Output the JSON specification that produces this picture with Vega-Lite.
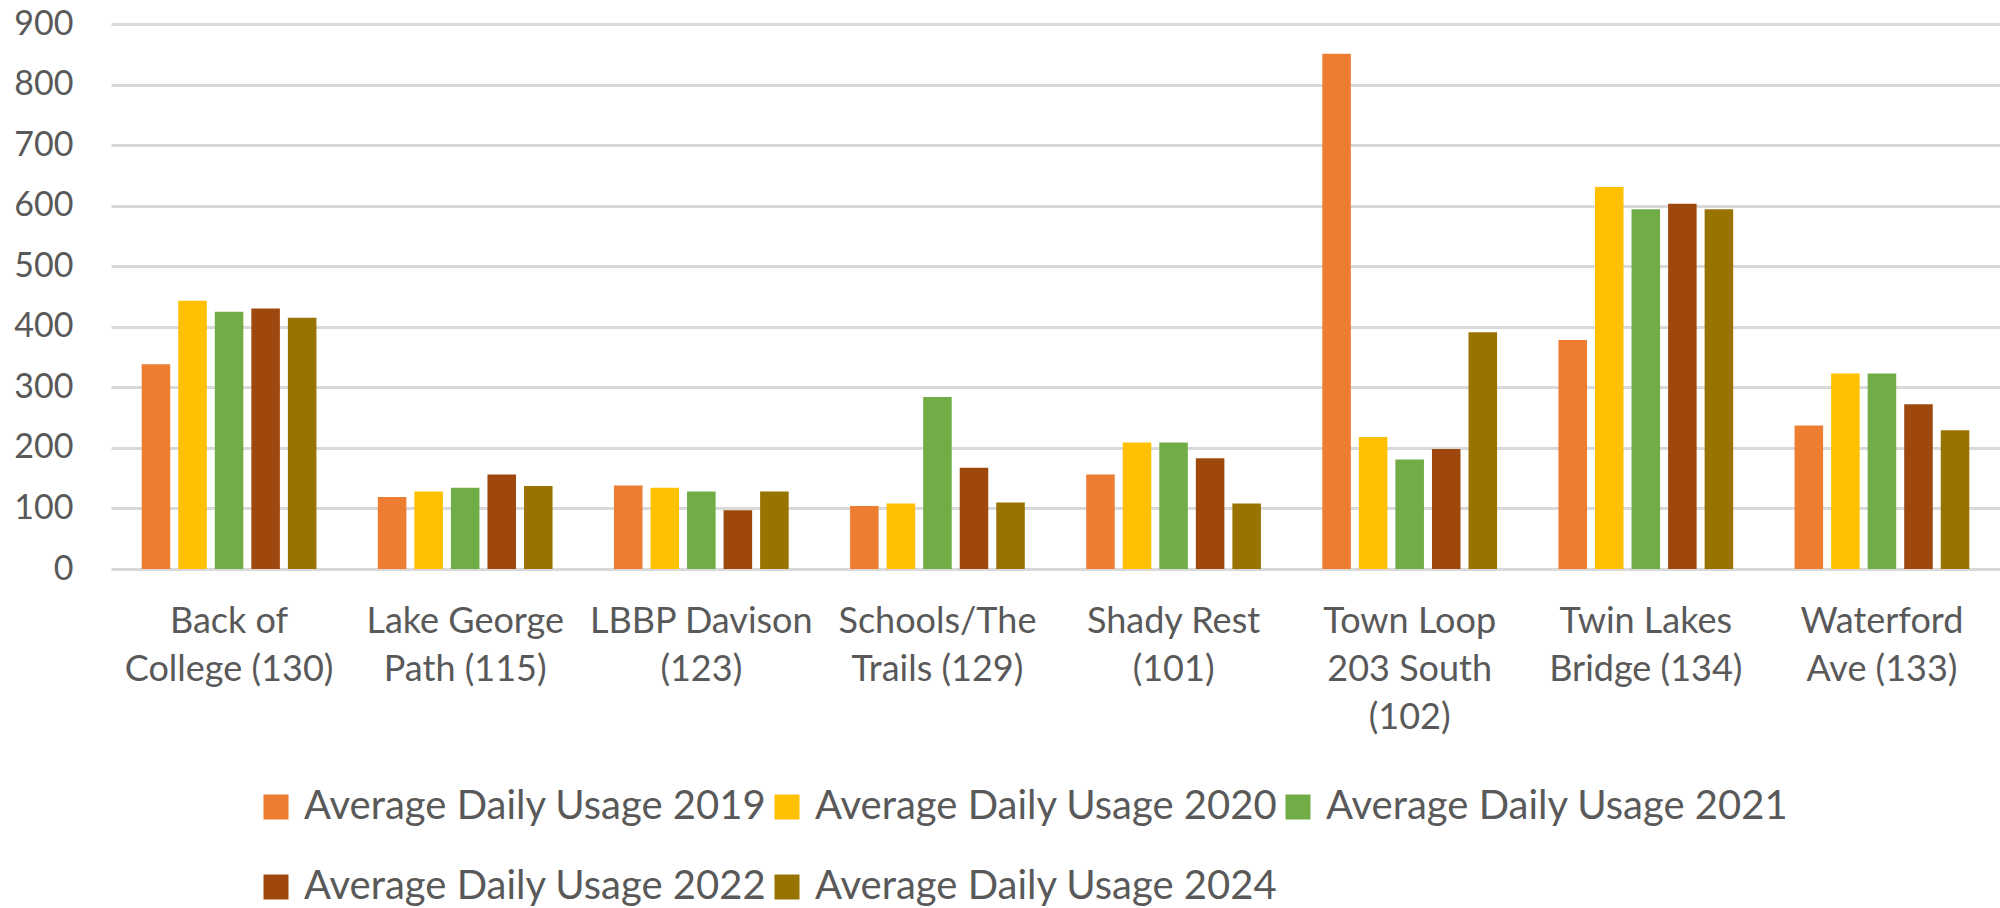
{
  "$schema": "https://vega.github.io/schema/vega-lite/v6.json",
  "autosize": {"type": "none"},
  "width": 1889,
  "height": 545,
  "padding": {"left": 111, "top": 24, "right": 0, "bottom": 339},
  "background": "white",
  "data": {
    "values": [
      {"site": "Back of\nCollege (130)", "series": "Average Daily Usage 2019", "value": 338},
      {"site": "Back of\nCollege (130)", "series": "Average Daily Usage 2020", "value": 443},
      {"site": "Back of\nCollege (130)", "series": "Average Daily Usage 2021", "value": 425},
      {"site": "Back of\nCollege (130)", "series": "Average Daily Usage 2022", "value": 430},
      {"site": "Back of\nCollege (130)", "series": "Average Daily Usage 2024", "value": 415},
      {"site": "Lake George\nPath (115)", "series": "Average Daily Usage 2019", "value": 119},
      {"site": "Lake George\nPath (115)", "series": "Average Daily Usage 2020", "value": 128},
      {"site": "Lake George\nPath (115)", "series": "Average Daily Usage 2021", "value": 134},
      {"site": "Lake George\nPath (115)", "series": "Average Daily Usage 2022", "value": 156},
      {"site": "Lake George\nPath (115)", "series": "Average Daily Usage 2024", "value": 137},
      {"site": "LBBP Davison\n(123)", "series": "Average Daily Usage 2019", "value": 138},
      {"site": "LBBP Davison\n(123)", "series": "Average Daily Usage 2020", "value": 134},
      {"site": "LBBP Davison\n(123)", "series": "Average Daily Usage 2021", "value": 128},
      {"site": "LBBP Davison\n(123)", "series": "Average Daily Usage 2022", "value": 97},
      {"site": "LBBP Davison\n(123)", "series": "Average Daily Usage 2024", "value": 128},
      {"site": "Schools/The\nTrails (129)", "series": "Average Daily Usage 2019", "value": 104},
      {"site": "Schools/The\nTrails (129)", "series": "Average Daily Usage 2020", "value": 108},
      {"site": "Schools/The\nTrails (129)", "series": "Average Daily Usage 2021", "value": 284},
      {"site": "Schools/The\nTrails (129)", "series": "Average Daily Usage 2022", "value": 167},
      {"site": "Schools/The\nTrails (129)", "series": "Average Daily Usage 2024", "value": 110},
      {"site": "Shady Rest\n(101)", "series": "Average Daily Usage 2019", "value": 156},
      {"site": "Shady Rest\n(101)", "series": "Average Daily Usage 2020", "value": 209},
      {"site": "Shady Rest\n(101)", "series": "Average Daily Usage 2021", "value": 209},
      {"site": "Shady Rest\n(101)", "series": "Average Daily Usage 2022", "value": 183},
      {"site": "Shady Rest\n(101)", "series": "Average Daily Usage 2024", "value": 108},
      {"site": "Town Loop\n203 South\n(102)", "series": "Average Daily Usage 2019", "value": 851},
      {"site": "Town Loop\n203 South\n(102)", "series": "Average Daily Usage 2020", "value": 218},
      {"site": "Town Loop\n203 South\n(102)", "series": "Average Daily Usage 2021", "value": 181},
      {"site": "Town Loop\n203 South\n(102)", "series": "Average Daily Usage 2022", "value": 198},
      {"site": "Town Loop\n203 South\n(102)", "series": "Average Daily Usage 2024", "value": 391},
      {"site": "Twin Lakes\nBridge (134)", "series": "Average Daily Usage 2019", "value": 378},
      {"site": "Twin Lakes\nBridge (134)", "series": "Average Daily Usage 2020", "value": 631},
      {"site": "Twin Lakes\nBridge (134)", "series": "Average Daily Usage 2021", "value": 594},
      {"site": "Twin Lakes\nBridge (134)", "series": "Average Daily Usage 2022", "value": 603},
      {"site": "Twin Lakes\nBridge (134)", "series": "Average Daily Usage 2024", "value": 594},
      {"site": "Waterford\nAve (133)", "series": "Average Daily Usage 2019", "value": 237},
      {"site": "Waterford\nAve (133)", "series": "Average Daily Usage 2020", "value": 323},
      {"site": "Waterford\nAve (133)", "series": "Average Daily Usage 2021", "value": 323},
      {"site": "Waterford\nAve (133)", "series": "Average Daily Usage 2022", "value": 272},
      {"site": "Waterford\nAve (133)", "series": "Average Daily Usage 2024", "value": 229}
    ]
  },
  "mark": {"type": "bar"},
  "encoding": {
    "x": {
      "field": "site",
      "type": "nominal",
      "sort": null,
      "scale": {"paddingInner": 0, "paddingOuter": 0},
      "axis": {
        "title": null,
        "labelAngle": 0,
        "labelExpr": "split(datum.label, '\\n')",
        "labelBaseline": "top",
        "labelPadding": 35,
        "labelLineHeight": 48,
        "ticks": false,
        "domain": false,
        "labelFontSize": 36,
        "labelLimit": 400
      }
    },
    "xOffset": {
      "field": "series",
      "type": "nominal",
      "scale": {"paddingInner": 0.219, "paddingOuter": 0.84}
    },
    "y": {
      "field": "value",
      "type": "quantitative",
      "scale": {"domain": [0, 900], "nice": false},
      "axis": {
        "title": null,
        "values": [0, 100, 200, 300, 400, 500, 600, 700, 800, 900],
        "grid": true,
        "gridColor": "#d9d9d9",
        "gridWidth": 3,
        "domain": false,
        "ticks": false,
        "labelPadding": 38,
        "labelFontSize": 34
      }
    },
    "color": {
      "field": "series",
      "type": "nominal",
      "scale": {
        "domain": ["Average Daily Usage 2019", "Average Daily Usage 2020", "Average Daily Usage 2021", "Average Daily Usage 2022", "Average Daily Usage 2024"],
        "range": ["#ED7D31", "#FFC000", "#70AD47", "#9E480E", "#997300"]
      },
      "legend": {
        "title": null,
        "orient": "none",
        "legendX": 145,
        "legendY": 763,
        "direction": "horizontal",
        "columns": 3,
        "symbolType": "square",
        "symbolSize": 625,
        "symbolStrokeWidth": 0,
        "labelFontSize": 40,
        "labelOffset": 8,
        "columnPadding": 0,
        "rowPadding": 40,
        "padding": 0,
        "labelLimit": 600
      }
    }
  },
  "config": {
    "view": {"stroke": null},
    "font": "Lato",
    "axis": {"labelFont": "Lato", "labelColor": "#595959"},
    "legend": {"labelFont": "Lato", "labelColor": "#595959"}
  }
}
